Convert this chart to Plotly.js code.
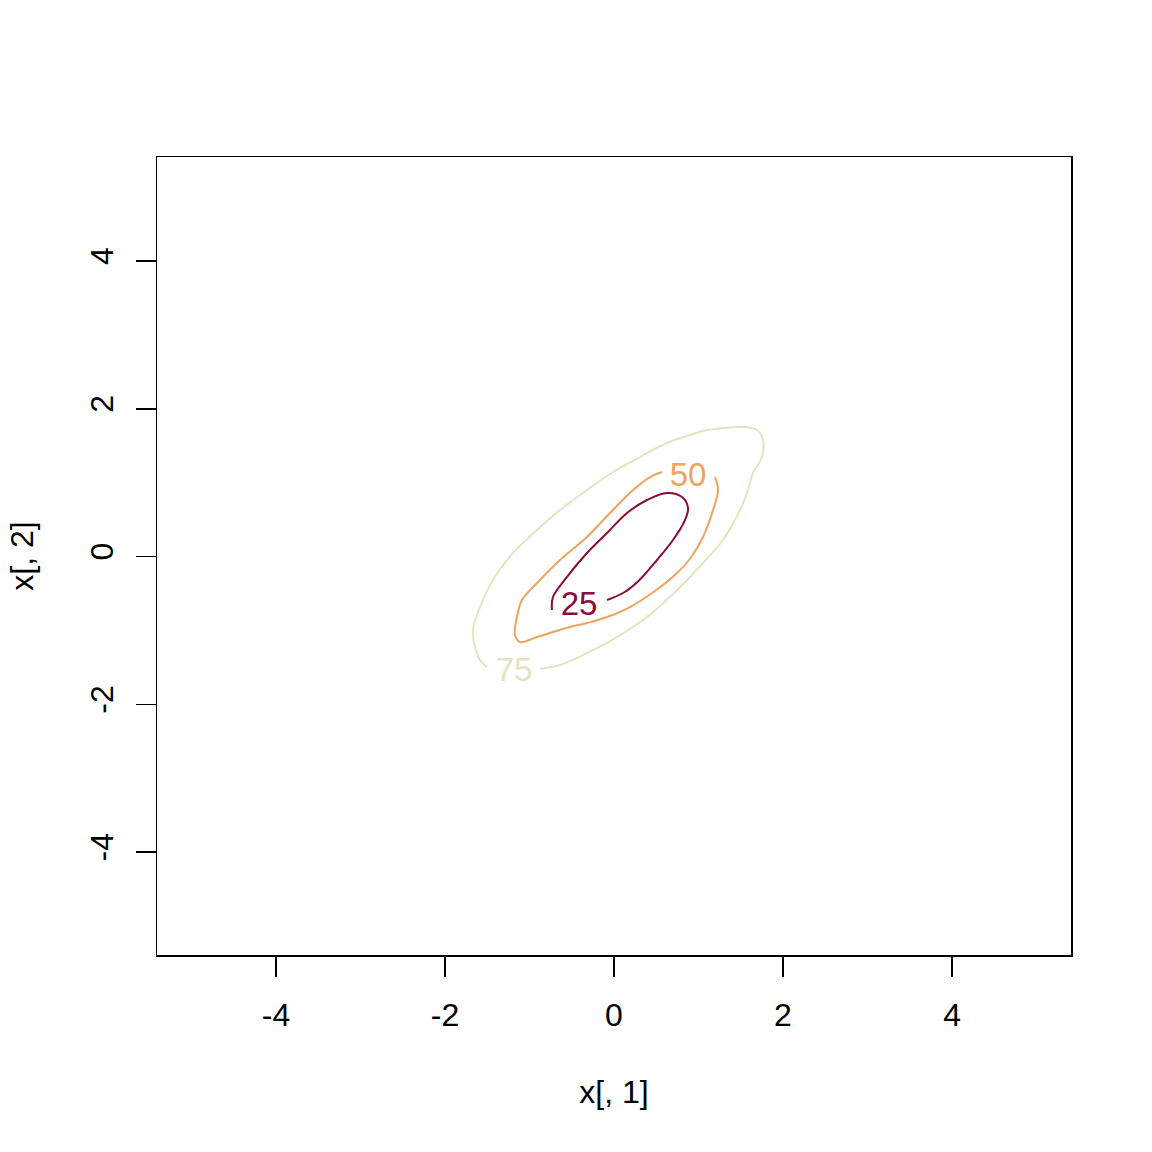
<!DOCTYPE html>
<html>
<head>
<meta charset="utf-8">
<script src="https://cdn.plot.ly/plotly-3.0.1.min.js"></script>
<style>html,body{margin:0;padding:0;background:#fff;}#plot{width:1152px;height:1152px;}</style>
</head>
<body>
<div id="plot"></div>
<script>
// Contour levels and colours
var levels = ["25", "50", "75"];
var levelColors = ["#8C0A3C", "#F0A35E", "#E2E6C0"];

// 25% contour (open at the label gap)
var c25x = [-0.734, -0.722, -0.556, -0.320, -0.083, 0.154, 0.391, 0.627, 0.805, 0.876, 0.840, 0.698, 0.509, 0.290, 0.107, -0.083];
var c25y = [-0.724, -0.548, -0.277, 0.047, 0.318, 0.589, 0.765, 0.860, 0.805, 0.657, 0.494, 0.223, -0.047, -0.330, -0.494, -0.589];

// 50% contour
var c50x = [1.195, 1.231, 1.172, 1.053, 0.899, 0.720, 0.480, 0.189, -0.083, -0.320, -0.521, -0.722, -0.911, -1.112, -1.172, -1.148, -1.089, -0.911, -0.639, -0.320, -0.047, 0.225, 0.426, 0.568];
var c50y = [1.076, 0.900, 0.629, 0.264, -0.030, -0.250, -0.470, -0.684, -0.819, -0.900, -0.954, -1.022, -1.090, -1.157, -1.063, -0.819, -0.589, -0.359, -0.047, 0.264, 0.589, 0.900, 1.076, 1.144];

// 75% contour
var c75x = [-0.876, -0.639, -0.320, 0.036, 0.391, 0.746, 1.053, 1.290, 1.491, 1.574, 1.645, 1.751, 1.763, 1.692, 1.527, 1.290, 1.101, 0.899, 0.627, 0.308, -0.012, -0.320, -0.639, -0.911, -1.195, -1.432, -1.586, -1.669, -1.645, -1.586, -1.503];
var c75y = [-1.523, -1.469, -1.306, -1.090, -0.819, -0.453, -0.088, 0.223, 0.629, 0.860, 1.130, 1.347, 1.577, 1.712, 1.753, 1.739, 1.712, 1.645, 1.536, 1.347, 1.144, 0.900, 0.629, 0.359, 0.047, -0.318, -0.684, -0.995, -1.225, -1.401, -1.496];

// Contour label positions
var labelX = [-0.414, 0.876, -1.183];
var labelY = [-0.683, 1.063, -1.576];

var tickVals = [-4, -2, 0, 2, 4];
var tickText = ["-4", "-2", "0", "2", "4"];

var xs = [c25x, c50x, c75x];
var ys = [c25y, c50y, c75y];

var traces = [];
for (var i = 0; i < levels.length; i++) {
  traces.push({
    type: "scatter", mode: "lines", x: xs[i], y: ys[i],
    line: {color: levelColors[i], width: 2, shape: "spline", smoothing: 1},
    hoverinfo: "skip", showlegend: false
  });
}
traces.push({
  type: "scatter", mode: "text", x: labelX, y: labelY, text: levels,
  textposition: "middle center",
  textfont: {family: "Liberation Sans, Arial, sans-serif", size: 33, color: levelColors},
  hoverinfo: "skip", showlegend: false
});

var font = {family: "Liberation Sans, Arial, sans-serif", size: 32, color: "#000"};

var layout = {
  width: 1152, height: 1152,
  margin: {l: 157, r: 81, t: 157, b: 197, pad: 0},
  paper_bgcolor: "#fff", plot_bgcolor: "#fff",
  font: font,
  showlegend: false,
  xaxis: {
    range: [-5.408, 5.408], tickvals: tickVals, ticktext: tickText,
    ticks: "outside", ticklen: 20, tickwidth: 1.5, tickcolor: "#000",
    showgrid: false, zeroline: false, showline: true, mirror: true,
    linecolor: "#000", linewidth: 1.5, tickfont: font, ticklabelstandoff: 11,
    title: {text: "x[, 1]", font: font, standoff: 48}
  },
  yaxis: {
    range: [-5.394, 5.408], tickvals: tickVals, ticktext: tickText,
    ticks: "outside", ticklen: 20, tickwidth: 1.5, tickcolor: "#000",
    showgrid: false, zeroline: false, showline: true, mirror: true,
    linecolor: "#000", linewidth: 1.5, tickfont: font, tickangle: -90, ticklabelstandoff: 10,
    title: {text: "x[, 2]", font: font, standoff: 40}
  }
};

Plotly.newPlot("plot", traces, layout, {staticPlot: true, displayModeBar: false});
</script>
</body>
</html>
